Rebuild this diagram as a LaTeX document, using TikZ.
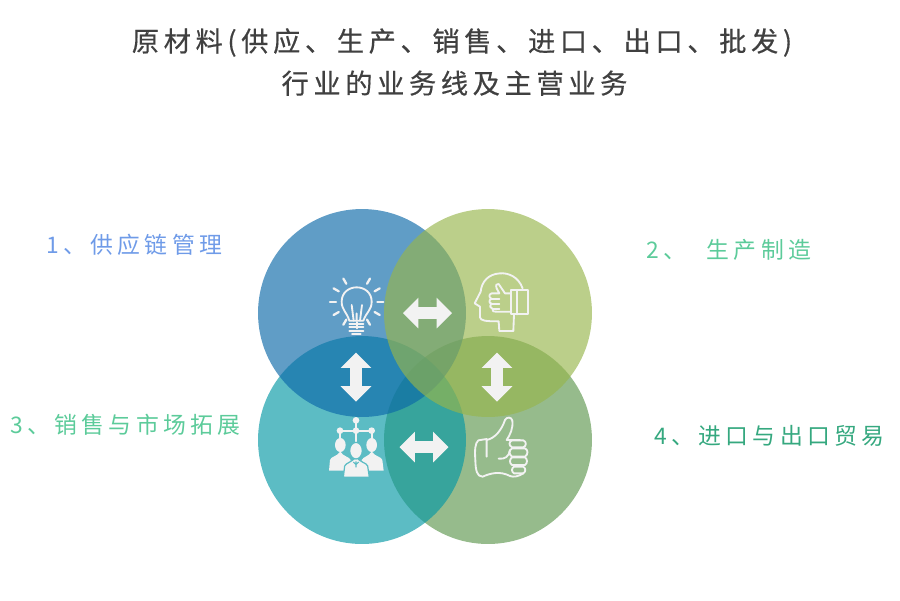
\documentclass[tikz,border=0pt]{standalone}
\usepackage{fontspec}
\usetikzlibrary{shapes.arrows}
\newfontfamily\cjk[LetterSpace=19]{Noto Sans CJK SC}
\newfontfamily\cjkhead[LetterSpace=17,FakeBold=.5]{Noto Sans CJK SC}
\definecolor{titlegray}{HTML}{404040}
\definecolor{iconwhite}{HTML}{F2F2F2}
\definecolor{bluebase}{RGB}{11,104,168}
\definecolor{limebase}{RGB}{151,181,75}
\definecolor{tealbase}{RGB}{4,152,165}
\definecolor{olivebase}{RGB}{94,151,79}
\definecolor{tealflat}{RGB}{92,188,196}
\definecolor{tagblue}{HTML}{6F9BE8}
\definecolor{taggreen}{HTML}{5CCB9A}
\definecolor{tagdeep}{HTML}{35A87F}
\tikzset{
  bubble/.style={circle,draw=none,fill opacity=.65,minimum size=4.16cm,inner sep=0pt},
  swaparrow/.style={double arrow,draw=none,fill=iconwhite,inner xsep=0pt,inner ysep=.11cm,minimum height=.98cm,
    double arrow head extend=.19cm,double arrow tip angle=90},
  heading/.style={font=\cjkhead\fontsize{15.5}{24}\selectfont,text=titlegray,align=center},
  tag/.style={font=\cjk\fontsize{13}{15}\selectfont,anchor=west,inner sep=0pt},
  iconline/.style={draw=iconwhite,line width=1.05pt,line cap=round,line join=round},
  iconfill/.style={fill=iconwhite,draw=none},
  zoomed/.style={shift={(310,260)},x=.02cm/3,y=-.02cm/3}
}
\begin{document}
\begin{tikzpicture}[x=.02cm,y=-.02cm]
\useasboundingbox (0,0) rectangle (900,600);
\node[bubble,fill=olivebase] (imports) at (488,440) {};
\node[bubble,fill=tealbase] (sales) at (362,440) {};
\node[bubble,fill=bluebase] (supply) at (362,313) {};
\node[bubble,fill=limebase] (making) at (488,313) {};

\node[swaparrow] (swaptop) at (427.5,313) {};
\node[swaparrow] (swapbottom) at (424,447) {};
\node[swaparrow,rotate=90] (swapleft) at (356,377) {};
\node[swaparrow,rotate=90] (swapright) at (497,377) {};

\node[heading] (title) at (462,62) {原材料(供应、生产、销售、进口、出口、批发)\\行业的业务线及主营业务\hspace*{.3cm}};
\node[tag,text=tagblue] (tagone) at (46,245) {1、供应链管理};
\node[tag,text=taggreen] (tagtwo) at (646,250) {2、\hspace{.22cm} 生产制造};
\node[tag,text=taggreen] (tagthree) at (10,425) {3、销售与市场拓展};
\node[tag,text=tagdeep] (tagfour) at (654,436) {4、进口与出口贸易};

\begin{scope}[zoomed]
% bulb
\foreach \a in {0,30,60,90,120,150,180,210,240,300,330}
  \draw[iconline,line width=1.3pt] (140,125)+(\a:62) -- +(\a:80);
\draw[iconline] (118,182) .. controls (110,155) and (95,150) .. (95,125) .. controls (95,98) and (116,82) .. (140,82)
  .. controls (164,82) and (185,98) .. (185,125) .. controls (185,150) and (170,155) .. (160,182) -- cycle;
\draw[iconline] (131,182) -- (125,135) (150,182) -- (156,135) (140,182) -- (140,160);
\draw[iconline] (118,192) -- (160,192) (118,202) -- (160,202) (118,212) -- (160,212) (126,221) -- (152,221);
% head with thumb
\draw[iconline] (638,85) .. controls (625,50) and (595,38) .. (570,40) .. controls (535,42) and (515,65) .. (512,95)
  -- (494,130) -- (510,140) -- (510,172) .. controls (512,182) and (525,184) .. (566,184) -- (568,213) -- (610,213) -- (612,165);
\draw[iconline] (603,90) -- (655,90) -- (655,163) -- (603,163) -- cycle (622,90) -- (622,163);
\draw[iconline] (603,100) -- (585,100) -- (566,72) .. controls (560,70) and (556,75) .. (560,85) -- (568,100) -- (545,100)
  .. controls (535,102) and (537,115) .. (545,116) .. controls (535,120) and (537,130) .. (545,131)
  .. controls (538,136) and (540,146) .. (548,147) .. controls (545,153) and (550,155) .. (560,155) -- (603,155);
\draw[iconline] (545,116) -- (568,116) (545,131) -- (568,131) (548,147) -- (568,147);
% people
\draw[iconline,line width=1.2pt] (138,481) -- (138,512) (90,512) -- (185,512) (90,512) -- (90,535) (185,512) -- (185,535) (138,512) -- (138,545);
\foreach \x/\y in {138/481,90/512,138/512,185/512}
  \fill[iconwhite] (\x,\y) circle (10);
\fill[iconwhite] (91,555) ellipse (16 and 21) (185,555) ellipse (16 and 21);
\fill[iconwhite] (57,632) -- (60,600) .. controls (62,590) and (80,590) .. (91,575) .. controls (100,590) and (118,590) .. (122,600) -- (125,632) -- cycle;
\fill[iconwhite] (153,632) -- (155,600) .. controls (160,590) and (175,590) .. (185,575) .. controls (195,590) and (215,590) .. (217,600) -- (221,632) -- cycle;
\draw[tealflat,fill=iconwhite,line width=.7pt] (100,652) -- (104,618) .. controls (108,608) and (125,608) .. (138,590) .. controls (150,608) and (170,608) .. (173,618) -- (178,652) -- cycle;
\draw[tealflat,fill=iconwhite,line width=.7pt] (138,572) ellipse (19 and 25);
\draw[tealflat,line width=.6pt] (138,604) -- (138,622) (130,606) -- (138,614) -- (146,606);
% thumbs up
\draw[iconline] (505,541) -- (530,537) -- (530,590) (505,541) .. controls (495,550) and (494,570) .. (496,600)
  .. controls (497,630) and (500,650) .. (518,650) .. controls (540,640) and (570,632) .. (600,648) .. controls (610,652) and (625,650) .. (640,640);
\draw[iconline] (530,540) .. controls (555,535) and (575,510) .. (585,480) .. controls (590,470) and (605,470) .. (607,482)
  .. controls (610,505) and (600,525) .. (590,540) -- (630,540);
\draw[iconline] (606,541) -- (640,541) .. controls (650,545) and (650,558) .. (640,562) -- (606,562)
  .. controls (596,556) and (596,546) .. (606,541);
\draw[iconline] (606,565) -- (645,565) .. controls (655,570) and (655,583) .. (645,590) -- (606,590)
  .. controls (596,582) and (596,572) .. (606,565);
\draw[iconline] (606,592) -- (645,592) .. controls (653,597) and (653,610) .. (645,615) -- (606,615)
  .. controls (598,610) and (598,598) .. (606,592);
\draw[iconline] (612,620) -- (640,620) .. controls (648,625) and (648,635) .. (640,640) -- (612,640)
  .. controls (604,635) and (604,625) .. (612,620);
\draw[iconline] (566,596) .. controls (585,598) and (597,590) .. (600,570);
\end{scope}
\end{tikzpicture}
\end{document}
